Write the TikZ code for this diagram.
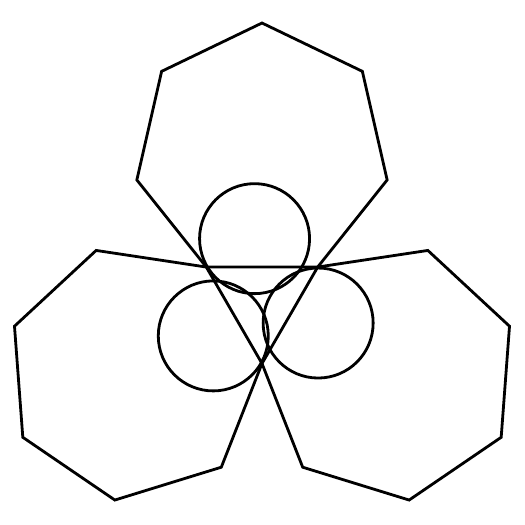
\documentclass[tikz,border=0pt]{standalone}
\begin{document}
\begin{tikzpicture}[x=1pt,y=1pt,line join=miter,
  shapeline/.style={draw=black,line width=2.8pt}]
\useasboundingbox (-262,-225.8) rectangle (263,299.2);
\def\R{128.375}
\def\D{147.82}
\foreach \t in {90,210,330}{
  \draw[shapeline,shift={(\t:\D)}] (\t+180+180/7:\R)
    \foreach \k in {1,...,6}{ -- (\t+180+180/7+\k*360/7:\R)} -- cycle;
}
\foreach \t in {97,217,337}{
  \draw[shapeline] (\t:61) circle (55);
}
\end{tikzpicture}
\end{document}
